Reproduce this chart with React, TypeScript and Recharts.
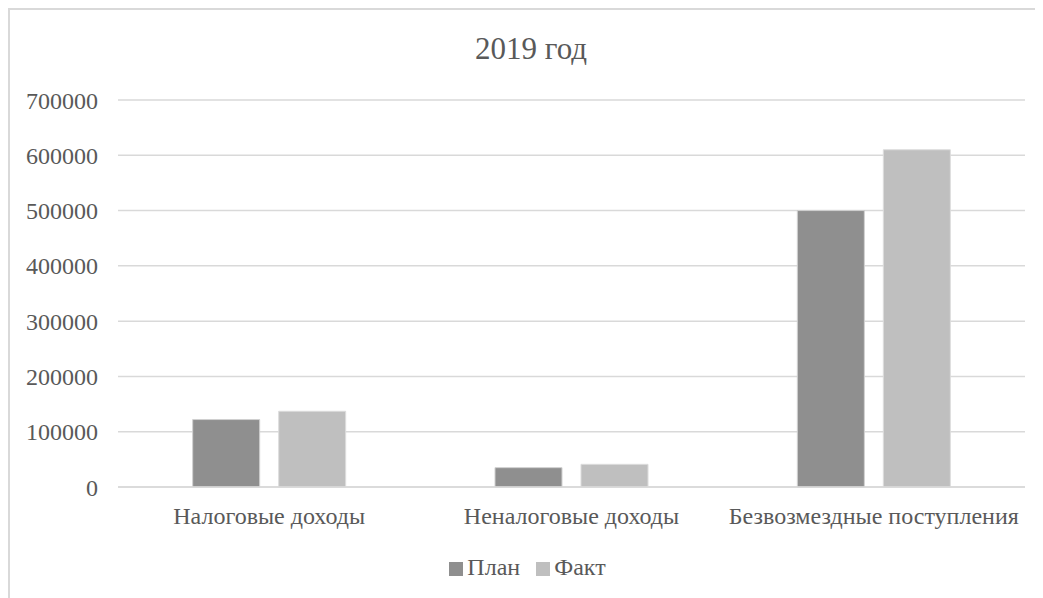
import { BarChart, Bar, XAxis, YAxis, CartesianGrid, Legend } from "recharts";

const categories = ["Налоговые доходы", "Неналоговые доходы", "Безвозмездные поступления"];
const planValues = [122000, 35000, 500000];
const factValues = [137000, 41000, 610000];
const yTicks = [0, 100000, 200000, 300000, 400000, 500000, 600000, 700000];

const data = categories.map((name, i) => ({
  name,
  plan: planValues[i],
  fact: factValues[i],
}));

const font = "Liberation Serif, Times New Roman, serif";
const textColor = "#595959";

export default function App() {
  return (
    <div
      style={{
        width: 1040,
        height: 600,
        border: "2px solid #d9d9d9",
        background: "#fff",
        position: "relative",
        fontFamily: font,
      }}
    >
      <div
        style={{
          position: "absolute",
          top: 21,
          left: 0,
          width: 1042,
          textAlign: "center",
          fontSize: 31,
          color: textColor,
        }}
      >
        2019 год
      </div>
      <BarChart
        width={1038}
        height={590}
        data={data}
        style={{ fontFamily: font }}
        margin={{ top: 90, right: 23, left: 0, bottom: 18 }}
        barCategoryGap="24.7%"
        barGap={19}
      >
        <CartesianGrid vertical={false} stroke="#d9d9d9" strokeWidth={1.5} />
        <XAxis
          dataKey="name"
          tickLine={false}
          axisLine={{ stroke: "#d9d9d9", strokeWidth: 1.5 }}
          tick={{ fill: textColor, fontSize: 24, fontFamily: font }}
          tickMargin={14}
          height={65}
          interval={0}
        />
        <YAxis
          ticks={yTicks}
          domain={[0, 700000]}
          tickLine={false}
          axisLine={false}
          width={108}
          tickMargin={14}
          tick={{ fill: textColor, fontSize: 24, fontFamily: font }}
        />
        <Legend
          verticalAlign="bottom"
          iconType="square"
          iconSize={14}
          wrapperStyle={{ fontSize: 24, fontFamily: font, color: textColor, lineHeight: "30px", paddingLeft: 18 }}
          formatter={(v) => <span style={{ color: textColor, fontFamily: font, marginRight: 6 }}>{v}</span>}
        />
        <Bar dataKey="plan" name="План" fill="#8f8f8f" stroke="#d0d0d0" strokeWidth={1} isAnimationActive={false} />
        <Bar dataKey="fact" name="Факт" fill="#bfbfbf" stroke="#dcdcdc" strokeWidth={1} isAnimationActive={false} />
      </BarChart>
    </div>
  );
}
